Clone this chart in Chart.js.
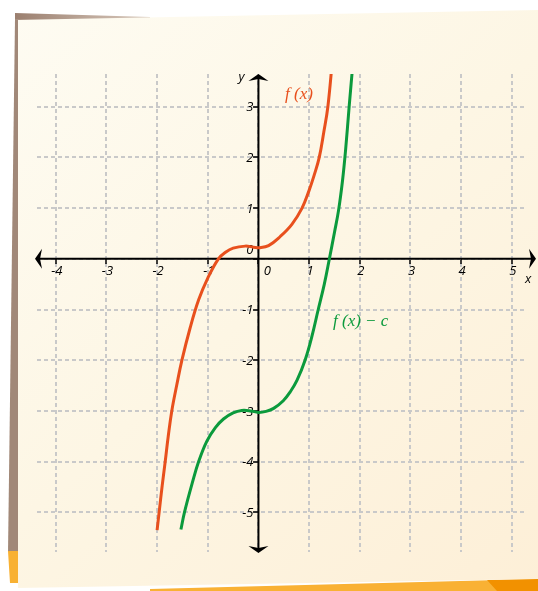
<!DOCTYPE html>
<html>
<head>
<meta charset="utf-8">
<script src="https://cdn.jsdelivr.net/npm/chart.js@4/dist/chart.umd.min.js"></script>
<style>
  html, body { margin: 0; padding: 0; background: #fff; }
  canvas { display: block; }
</style>
</head>
<body>
<canvas id="c" width="538" height="591"></canvas>
<script>
// Integer tick values on both axes
const xTicks = [-4, -3, -2, -1, 0, 1, 2, 3, 4, 5];
const yTicks = [-5, -4, -3, -2, -1, 0, 1, 2, 3];

// f(x)
const fX = [-2.0, -1.96, -1.9, -1.84, -1.78, -1.71, -1.61, -1.51, -1.35, -1.18, -1.0, -0.79, -0.65, -0.5, -0.26, -0.1, 0.03, 0.2, 0.43, 0.66, 0.86, 1.0, 1.1, 1.2, 1.29, 1.37, 1.46];
const fY = [-5.35, -5.0, -4.48, -4.0, -3.5, -3.0, -2.48, -2.0, -1.37, -0.81, -0.38, 0.0, 0.13, 0.21, 0.25, 0.23, 0.22, 0.26, 0.44, 0.68, 1.0, 1.35, 1.65, 2.0, 2.5, 3.0, 3.92];

// f(x) - c
const gX = [-1.53, -1.46, -1.3, -1.18, -1.02, -0.85, -0.69, -0.5, -0.33, -0.15, 0.0, 0.15, 0.3, 0.49, 0.63, 0.76, 0.92, 1.05, 1.18, 1.3, 1.4, 1.5, 1.58, 1.66, 1.72, 1.79, 1.87];
const gY = [-5.34, -5.0, -4.4, -4.0, -3.6, -3.33, -3.16, -3.04, -2.99, -3.0, -3.03, -3.01, -2.95, -2.8, -2.62, -2.4, -2.0, -1.55, -1.0, -0.5, 0.0, 0.52, 0.95, 1.55, 2.15, 3.0, 3.92];

const toPoints = (xs, ys) => xs.map((v, i) => ({ x: v, y: ys[i] }));

const ORANGE = '#e8501d';
const GREEN = '#0b9a3c';
const TICK_FONT = 'italic 13px "Open Sans"';

// Paper sheet with coloured edges behind the plot
const paperPlugin = {
  id: 'paper',
  beforeDraw(chart) {
    const ctx = chart.ctx;
    const W = chart.width, H = chart.height;
    ctx.save();
    ctx.fillStyle = '#ffffff';
    ctx.fillRect(0, 0, W, H);

    // brown top strip
    const gTop = ctx.createLinearGradient(15, 0, 150, 0);
    gTop.addColorStop(0, '#9b7f6f');
    gTop.addColorStop(1, '#d9cabd');
    ctx.fillStyle = gTop;
    ctx.beginPath();
    ctx.moveTo(15, 13); ctx.lineTo(150, 17); ctx.lineTo(150, 19); ctx.lineTo(15, 21);
    ctx.closePath(); ctx.fill();

    // brown left strip
    ctx.fillStyle = '#a18878';
    ctx.beginPath();
    ctx.moveTo(15, 19); ctx.lineTo(19, 19); ctx.lineTo(19, 552); ctx.lineTo(8, 552);
    ctx.closePath(); ctx.fill();

    // orange left strip
    ctx.fillStyle = '#f8b133';
    ctx.beginPath();
    ctx.moveTo(8, 551); ctx.lineTo(19, 551); ctx.lineTo(19, 583); ctx.lineTo(10, 583);
    ctx.closePath(); ctx.fill();

    // orange bottom strip
    ctx.fillStyle = '#f9b134';
    ctx.beginPath();
    ctx.moveTo(150, 589); ctx.lineTo(W, 579); ctx.lineTo(W, H); ctx.lineTo(150, H);
    ctx.closePath(); ctx.fill();

    // dark orange corner
    ctx.fillStyle = '#f29100';
    ctx.beginPath();
    ctx.moveTo(487, 580); ctx.lineTo(W, 579); ctx.lineTo(W, H); ctx.lineTo(497, H);
    ctx.closePath(); ctx.fill();

    // the sheet itself
    const gPaper = ctx.createLinearGradient(0, 0, W, H);
    gPaper.addColorStop(0, '#fefcf3');
    gPaper.addColorStop(0.5, '#fdf6e4');
    gPaper.addColorStop(1, '#fdefd7');
    ctx.fillStyle = gPaper;
    ctx.beginPath();
    ctx.moveTo(13, 20); ctx.lineTo(W, 10); ctx.lineTo(W, 579); ctx.lineTo(18, 588);
    ctx.lineTo(18, 20);
    ctx.closePath(); ctx.fill();
    ctx.restore();
  }
};

// Axes with arrow heads, tick labels and axis names
const axesPlugin = {
  id: 'axesArrows',
  beforeDatasetsDraw(chart) {
    const ctx = chart.ctx;
    const { x, y } = chart.scales;
    const a = chart.chartArea;
    const x0 = x.getPixelForValue(0);
    const y0 = y.getPixelForValue(0);
    const left = a.left - 2, right = a.right + 10, top = a.top, bottom = a.bottom + 1;

    ctx.save();
    ctx.strokeStyle = '#000';
    ctx.fillStyle = '#000';
    ctx.lineWidth = 2;
    ctx.beginPath();
    ctx.moveTo(left + 4, y0); ctx.lineTo(right - 4, y0);
    ctx.moveTo(x0, top + 4); ctx.lineTo(x0, bottom - 4);
    ctx.stroke();

    const arrow = (pts) => {
      ctx.beginPath();
      ctx.moveTo(pts[0][0], pts[0][1]);
      ctx.lineTo(pts[1][0], pts[1][1]);
      ctx.lineTo(pts[2][0], pts[2][1]);
      ctx.lineTo(pts[3][0], pts[3][1]);
      ctx.closePath();
      ctx.fill();
    };
    arrow([[left, y0], [left + 7, y0 - 10], [left + 5, y0], [left + 7, y0 + 10]]);
    arrow([[right, y0], [right - 7, y0 - 10], [right - 5, y0], [right - 7, y0 + 10]]);
    arrow([[x0, top], [x0 + 10, top + 7], [x0, top + 5], [x0 - 10, top + 7]]);
    arrow([[x0, bottom], [x0 + 10, bottom - 7], [x0, bottom - 5], [x0 - 10, bottom - 7]]);

    ctx.font = TICK_FONT;
    ctx.textBaseline = 'middle';
    ctx.textAlign = 'center';
    xTicks.forEach(v => {
      const px = x.getPixelForValue(v);
      ctx.fillText(String(v), v === 0 ? px + 9 : px + 1, y0 + 12);
    });
    ctx.textAlign = 'right';
    yTicks.forEach(v => {
      const py = y.getPixelForValue(v);
      ctx.fillText(String(v), x0 - 5, v === 0 ? py - 9 : py + 1);
    });

    ctx.textAlign = 'center';
    ctx.fillText('x', right - 8, y0 + 20);
    ctx.fillText('y', x0 - 17, top + 3);
    ctx.restore();
  },
  afterDatasetsDraw(chart) {
    const ctx = chart.ctx;
    ctx.save();
    ctx.font = 'italic 17px "Liberation Serif"';
    ctx.textBaseline = 'middle';
    ctx.textAlign = 'left';
    ctx.fillStyle = ORANGE;
    ctx.fillText('f (x)', 285, 95);
    ctx.fillStyle = GREEN;
    ctx.fillText('f (x) \u2212 c', 333, 322);
    ctx.restore();
  }
};

const gridOpts = {
  color: '#c9c9c9',
  lineWidth: 2,
  drawTicks: true,
  tickLength: 5,
  tickColor: '#000',
  tickWidth: 1.5
};

const curve = (label, xs, ys, color) => ({
  label,
  data: toPoints(xs, ys),
  showLine: true,
  borderColor: color,
  borderWidth: 3,
  pointRadius: 0,
  tension: 0.4,
  fill: false
});

new Chart(document.getElementById('c'), {
  type: 'scatter',
  data: {
    datasets: [
      curve('f(x)', fX, fY, ORANGE),
      curve('f(x) - c', gX, gY, GREEN)
    ]
  },
  options: {
    responsive: false,
    animation: false,
    devicePixelRatio: 1,
    layout: { padding: { left: 37, right: 12, top: 74, bottom: 39 } },
    plugins: {
      legend: { display: false },
      tooltip: { enabled: false },
      title: { display: false }
    },
    scales: {
      x: {
        type: 'linear',
        min: -4.37,
        max: 5.28,
        position: { y: 0 },
        afterBuildTicks: (s) => { s.ticks = xTicks.map(v => ({ value: v })); },
        ticks: { display: false },
        grid: gridOpts,
        border: { display: false, dash: [4, 3] }
      },
      y: {
        type: 'linear',
        min: -5.783,
        max: 3.645,
        position: { x: 0 },
        afterBuildTicks: (s) => { s.ticks = yTicks.map(v => ({ value: v })); },
        ticks: { display: false },
        grid: gridOpts,
        border: { display: false, dash: [4, 3] }
      }
    }
  },
  plugins: [paperPlugin, axesPlugin]
});
</script>
</body>
</html>
